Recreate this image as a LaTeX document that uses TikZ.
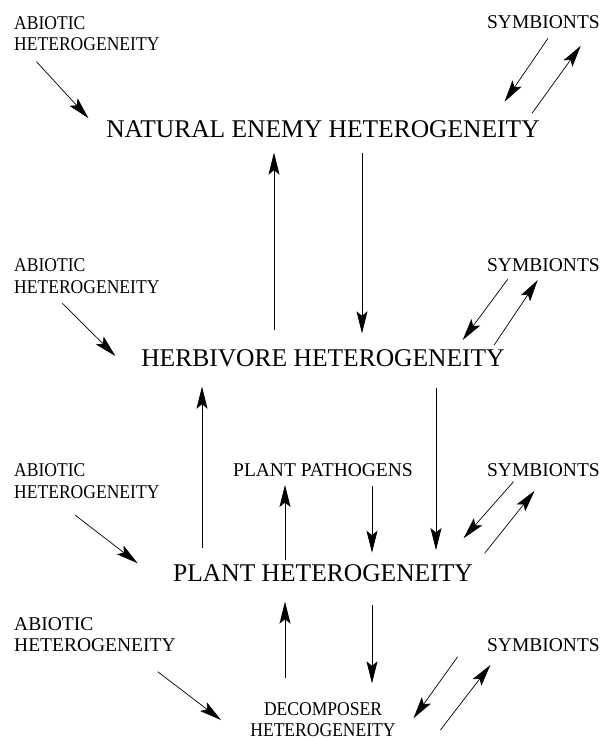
\documentclass[tikz,border=0pt]{standalone}
\usepackage{fontspec}
\setmainfont{Liberation Serif}
\newfontfamily\narrowserif[FakeStretch=0.9]{Liberation Serif}
\usetikzlibrary{arrows.meta}

\begin{document}
\begin{tikzpicture}[x=1pt, y=-1pt,
    tier/.style={inner sep=0pt, anchor=base, font=\fontsize{25.5}{30}\selectfont},
    source/.style={inner sep=0pt, align=left, anchor=base west, font=\fontsize{19.5}{21.5}\selectfont},
    narrow/.style={font=\narrowserif\fontsize{19.5}{21.5}\selectfont},
    symb/.style={inner sep=0pt, anchor=base east, font=\fontsize{19.5}{21.5}\selectfont},
    arr/.style={-{Stealth[length=22pt, width=11pt, inset=4.5pt]}, line width=0.7pt}]
    \useasboundingbox (0,0) rectangle (603,740);

    % natural enemies
    \node[source, narrow] (abio1) at (14,50.7) {ABIOTIC\\HETEROGENEITY};
    \node[symb] (symb1) at (600,28.5) {SYMBIONTS};
    \node[tier] (enemy) at (323,137) {NATURAL ENEMY HETEROGENEITY};
    % herbivores
    \node[source, narrow] (abio2) at (14,293.3) {ABIOTIC\\HETEROGENEITY};
    \node[symb] (symb2) at (600,271.7) {SYMBIONTS};
    \node[tier] (herb) at (323,366.5) {HERBIVORE HETEROGENEITY};
    % plants
    \node[source, narrow] (abio3) at (14,498.3) {ABIOTIC\\HETEROGENEITY};
    \node[symb, anchor=base] (path) at (323,476.7) {PLANT PATHOGENS};
    \node[symb] (symb3) at (600,476.7) {SYMBIONTS};
    \node[tier] (plant) at (323,581.7) {PLANT HETEROGENEITY};
    % decomposers
    \node[source] (abio4) at (14,651.7) {ABIOTIC\\HETEROGENEITY};
    \node[symb] (symb4) at (600,651.7) {SYMBIONTS};
    \node[source, narrow, align=center, anchor=base] (decomp) at (323,736.7) {DECOMPOSER\\HETEROGENEITY};

    % abiotic inputs
    \draw[arr] ([shift={(22.5,11)}]abio1.base west) -- ([shift={(-234.5,-18.7)}]enemy.base);
    \draw[arr] ([shift={(48.3,10)}]abio2.base west) -- ([shift={(-207.6,-10.5)}]herb.base);
    \draw[arr] ([shift={(61,16.7)}]abio3.base west) -- ([shift={(-185.3,-18.4)}]plant.base);
    \draw[arr] ([shift={(143.7,20)}]abio4.base west) -- ([shift={(-102,-16.7)}]decomp.base);

    % symbionts, both ways
    \draw[arr] ([shift={(-52,9.8)}]symb1.base east) -- ([shift={(181.6,-35.3)}]enemy.base);
    \draw[arr] ([shift={(209,-23.7)}]enemy.base) -- ([shift={(-19.2,17.2)}]symb1.base east);
    \draw[arr] ([shift={(-92.3,7.6)}]symb2.base east) -- ([shift={(139.7,-26.5)}]herb.base);
    \draw[arr] ([shift={(171.2,-21.5)}]herb.base) -- ([shift={(-62.3,8.3)}]symb2.base east);
    \draw[arr] ([shift={(-86.5,5)}]symb3.base east) -- ([shift={(140.5,-43.4)}]plant.base);
    \draw[arr] ([shift={(161.6,-28.4)}]plant.base) -- ([shift={(-65.4,14)}]symb3.base east);
    \draw[arr] ([shift={(-142.3,5)}]symb4.base east) -- ([shift={(90.5,-18.4)}]decomp.base);
    \draw[arr] ([shift={(117.4,-6.7)}]decomp.base) -- ([shift={(-109.6,13.3)}]symb4.base east);

    % links between the levels
    \draw[arr] ([shift={(-49,-36.5)}]herb.base) -- ([shift={(-49,15.7)}]enemy.base);
    \draw[arr] ([shift={(39,15.7)}]enemy.base) -- ([shift={(39,-33.2)}]herb.base);
    \draw[arr] ([shift={(-121,-33.4)}]plant.base) -- ([shift={(-121,20.2)}]herb.base);
    \draw[arr] ([shift={(113,21.8)}]herb.base) -- ([shift={(113,-31.7)}]plant.base);
    \draw[arr] ([shift={(-38,-21.7)}]plant.base) -- ([shift={(-38,8.3)}]path.base);
    \draw[arr] ([shift={(49,9.3)}]path.base) -- ([shift={(49,-29)}]plant.base);
    \draw[arr] ([shift={(-38,-58.4)}]decomp.base) -- ([shift={(-38,20)}]plant.base);
    \draw[arr] ([shift={(49,23.3)}]plant.base) -- ([shift={(49,-53.4)}]decomp.base);
\end{tikzpicture}
\end{document}
